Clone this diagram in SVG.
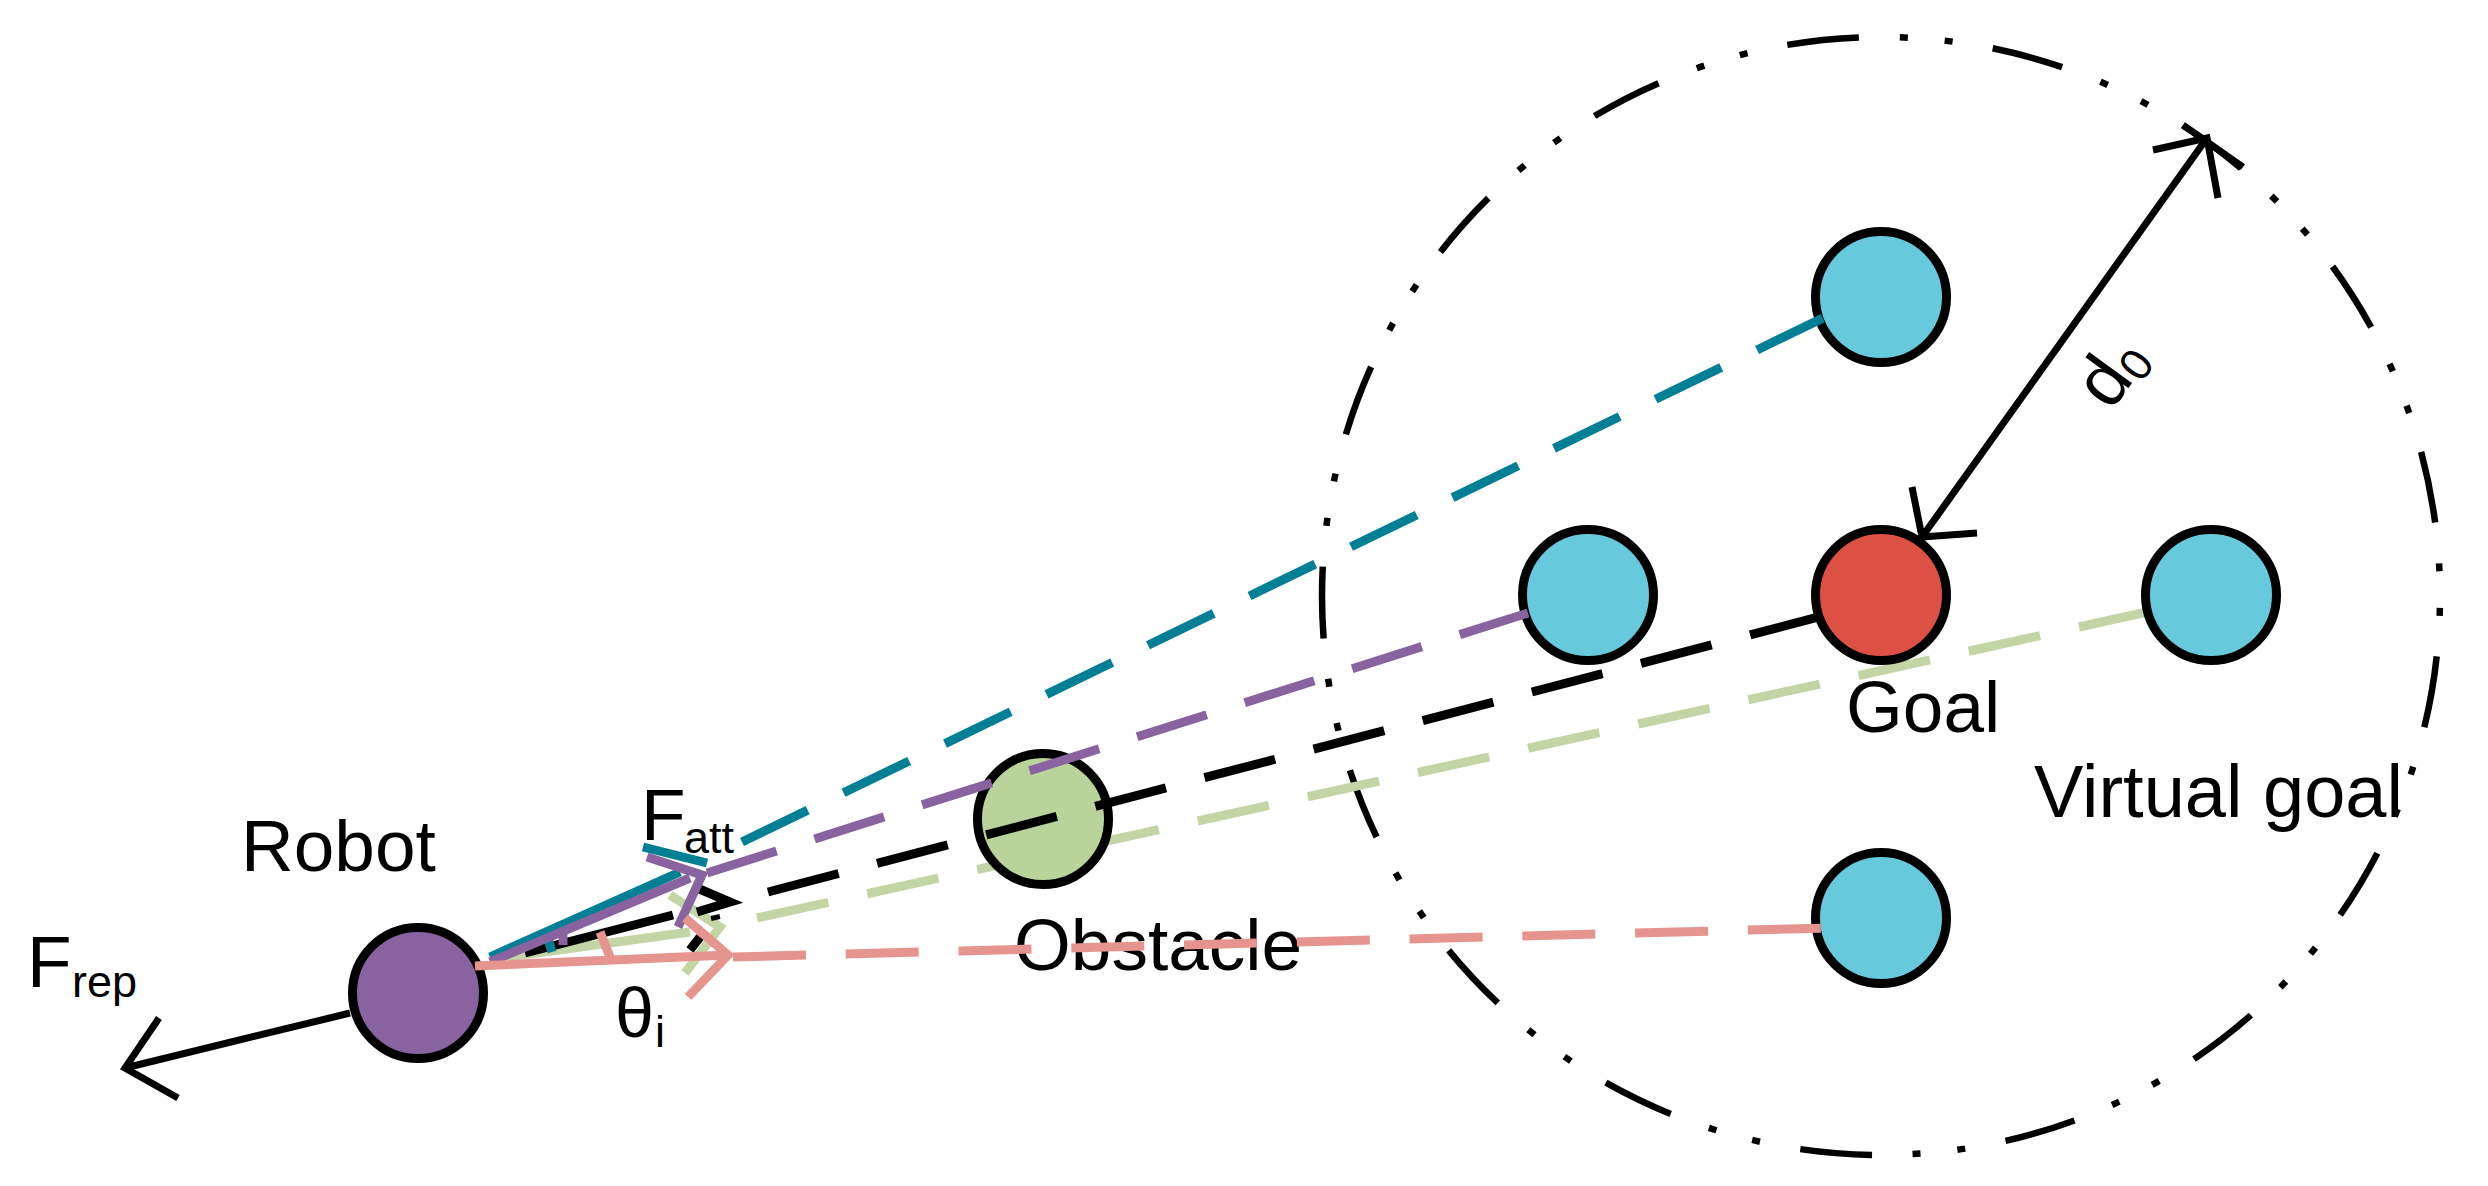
<svg xmlns="http://www.w3.org/2000/svg" width="2488" height="1186" viewBox="0 0 2488 1186">
<style>
text{font-family:"Liberation Sans",Arial,sans-serif;fill:#000}
.lb{font-size:73px}.sub{font-size:45px}
.n{stroke:#000;stroke-width:9}
.blue{fill:#67CADC}
.l{fill:none;stroke-width:9}
.w{stroke-width:7}
.d{stroke-dasharray:73 39.8}
.k{stroke:#000}.t{stroke:#007F95}.p{stroke:#8963A0}.g{stroke:#C3D5A4}.r{stroke:#E6948E}
</style>
<rect width="2488" height="1186" fill="#fff"/>
<g id="boundary"><circle cx="1881" cy="596" r="559" fill="none" stroke="#000" stroke-width="6.5" stroke-dasharray="72 41 8 37 8 40.6" stroke-dashoffset="146"/></g>
<g id="connector-behind-obstacle">
<path class="l g" d="M507 957L690 932M670 895L720 927L685 973"/>
<path class="l g d" d="M757 918L2147 612"/>
</g>
<g id="robot"><circle class="n" cx="418" cy="993" r="65.5" fill="#8963A0"/><text class="lb" x="241" y="871">Robot</text></g>
<g id="obstacle"><circle class="n" cx="1043" cy="819" r="65.5" fill="#B9D39A"/><text class="lb" x="1014" y="970">Obstacle</text></g>
<g id="goal"><circle class="n" cx="1881" cy="595" r="65.5" fill="#DD5144"/><text class="lb" x="1846" y="732">Goal</text></g>
<g id="virtual-top"><circle class="n blue" cx="1881" cy="297" r="65.5"/></g>
<g id="virtual-left"><circle class="n blue" cx="1588" cy="595" r="65.5"/></g>
<g id="virtual-right"><circle class="n blue" cx="2211" cy="595" r="65.5"/></g>
<g id="virtual-bottom"><circle class="n blue" cx="1881" cy="918" r="65.5"/></g>
<g id="labels">
<text x="2034" y="817" style="font-size:74px">Virtual goal</text>
<text class="lb" x="27" y="987">F</text><text class="sub" x="72" y="997">rep</text>
<text class="lb" x="641" y="840">F</text><text class="sub" x="684" y="853">att</text>
<text x="615" y="1037" style="font-size:70px">θ</text><text class="sub" x="655" y="1047">i</text>
<text class="lb" transform="translate(2111 412) rotate(-54)">d<tspan class="sub" dy="8">0</tspan></text>
</g>
<g id="connectors">
<path class="l k w" d="M350 1013L125 1068M159 1018L125 1068L178 1098"/>
<path class="l k w" d="M2207 138L1922 537M2153 150L2207 138L2218 198M2183 125L2243 167M1912 487L1922 537L1977 533"/>
<path class="l k" d="M525 953L673 915M697 888L730 902L697 912M715 915L716 920M690 950L700 937"/>
<path class="l k d" d="M768 892L1826 615"/>
<path class="l t" d="M490 957L680 872M643 847L707 863M547 935L552 952"/>
<path class="l t d" d="M742 842L1823 318"/>
<path class="l p" d="M490 962L690 878M647 857L702 875L678 927M563 930L563 945"/>
<path class="l p d" d="M707 873L1528 613"/>
<path class="l r" d="M475 966L728 955M685 918L728 955L688 997M600 932L610 957"/>
<path class="l r d" d="M733 957L1826 928"/>
</g>
</svg>
